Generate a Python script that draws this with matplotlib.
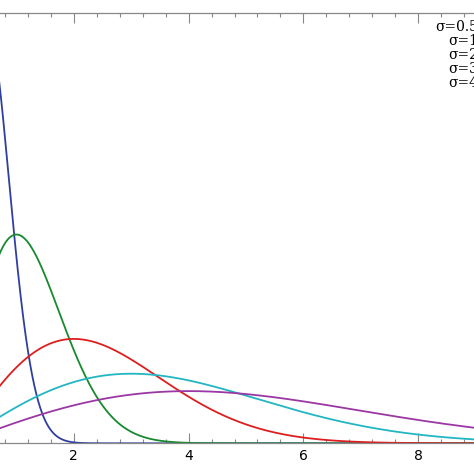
import numpy as np
import matplotlib
matplotlib.use("Agg")
import matplotlib.pyplot as plt

# Rayleigh distribution scale parameters (from legend)
sigmas = [0.5, 1, 2, 3, 4]
labels = ["σ=0.5", "σ=1", "σ=2", "σ=3", "σ=4"]
colors = ["#2f3f9f", "#17892f", "#dd1e1e", "#22b6c2", "#9a37a3"]
xticks = [2, 4, 6, 8]

x = np.linspace(0, 10, 2000)

fig = plt.figure(figsize=(4.74, 4.74), dpi=100)
ax = fig.add_axes([-41 / 474, 30.7 / 474, 574 / 474, 430.3 / 474])

for s, lab, c in zip(sigmas, labels, colors):
    pdf = x / s**2 * np.exp(-x**2 / (2 * s**2))
    ax.plot(x, pdf, color=c, lw=1.3, label=lab)

ax.set_xlim(0, 10)
ax.set_ylim(0, 1.25)
ax.set_xticks(xticks)
ax.set_xticks(np.arange(0, 10.01, 0.4), minor=True)
ax.set_yticks([])
ax.tick_params(axis="x", which="major", direction="in", length=7.5, width=0.8,
               color="#888888", top=True, labelsize=10, pad=4)
ax.tick_params(axis="x", which="minor", direction="in", length=3, width=0.8,
               color="#888888", top=True)
for sp in ax.spines.values():
    sp.set_color("#888888")
    sp.set_linewidth(0.9)

leg = ax.legend(loc="upper right", bbox_to_anchor=(0.975, 1.012), frameon=False,
                markerfirst=False, handlelength=1.5, handletextpad=0.5,
                labelspacing=0.0, borderaxespad=0.5,
                prop={"family": "DejaVu Serif", "size": 10})

fig.savefig("out.png", dpi=100)
